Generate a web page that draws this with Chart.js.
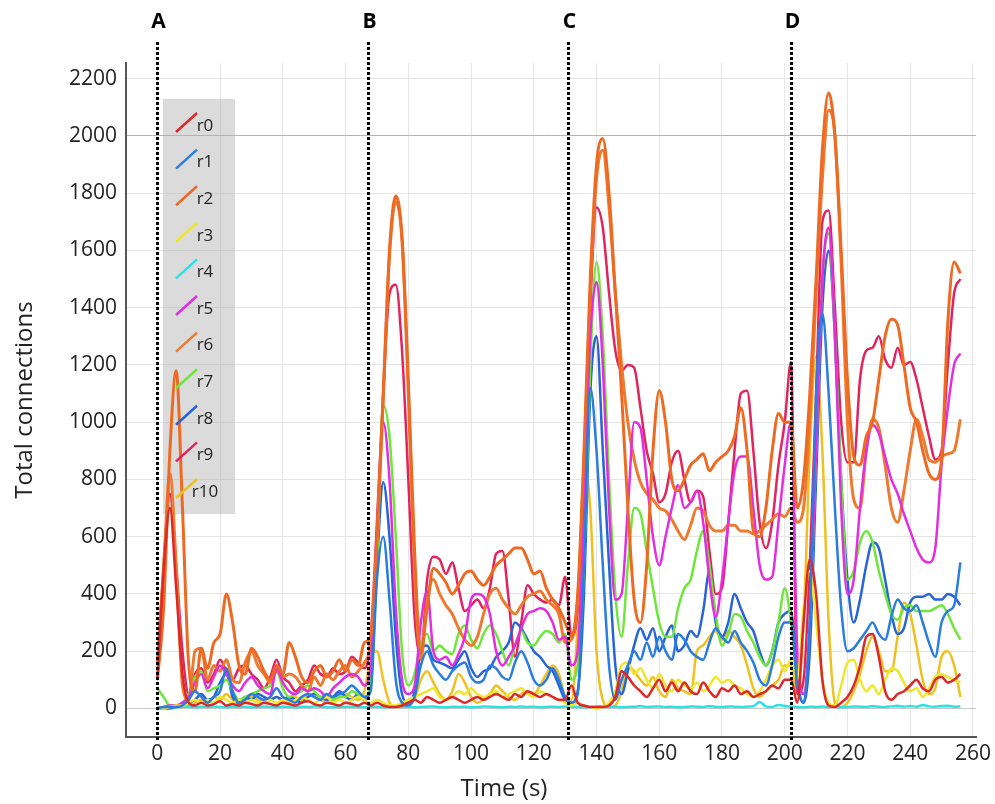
<!DOCTYPE html>
<html>
<head>
<meta charset="utf-8">
<script src="https://cdn.jsdelivr.net/npm/chart.js@4.4.0/dist/chart.umd.min.js"></script>
<style>
  body { margin: 0; background: #fff; }
  #wrap { width: 995px; height: 804px; }
</style>
</head>
<body>
<div id="wrap"><canvas id="connChart" width="995" height="804"></canvas></div>
<script>
// sample times (s), one value every 2 s
var times = [];
for (var t = 0; t <= 256; t += 2) times.push(t);

var xTicks = [0, 20, 40, 60, 80, 100, 120, 140, 160, 180, 200, 220, 240, 260];
var yTicks = [0, 200, 400, 600, 800, 1000, 1200, 1400, 1600, 1800, 2000, 2200];

var seriesNames = ['r0', 'r1', 'r2', 'r3', 'r4', 'r5', 'r6', 'r7', 'r8', 'r9', 'r10'];
var seriesColors = ['#dc2828', '#2a7de0', '#ee6a22', '#f0e62a', '#2ee2e2', '#e22ee0',
                    '#ee7a30', '#6ee63a', '#2664d8', '#e2245e', '#f0c020'];

// phase markers
var markerNames = ['A', 'B', 'C', 'D'];
var markerTimes = [0, 67, 131, 202];

var r0 = [100,480,700,420,120,20,10,20,10,15, 25,10,15,10,20,15,10,20,15,10, 20,15,10,20,25,15,10,20,15,10, 20,15,10,20,
          10,20,10,5,5,10,20,30,20,40, 30,20,30,40,30,20,30,40,30,40, 50,40,30,50,40,60,50,40,50,40, 30,30,
          80,20,10,5,5,5,10,40,130,110, 80,60,40,70,100,60,90,60,90,60, 50,90,60,40,70,60,80,50,60,40, 50,60,80,70,100,
          100,20,300,520,400,100,10,5,20,40, 80,150,250,260,180,60,30,50,60,80, 100,70,60,100,110,90,100,120];
var r1 = [0,5,5,5,10,30,60,40,20,40, 60,140,60,20,30,50,40,30,40,70, 40,30,20,40,50,40,30,50,40,50, 60,80,60,40,
          60,450,600,380,100,20,10,40,150,200, 150,120,100,130,150,160,110,90,100,150, 140,110,100,160,200,160,100,80,100,140, 100,40,
          20,50,500,1120,900,500,150,30,100,150, 200,170,230,180,250,200,170,260,240,200, 180,170,230,280,250,230,270,230,200,160, 100,80,150,250,300,
          300,80,20,300,1100,1380,1100,700,350,200, 210,240,270,300,260,240,320,380,350,340, 360,300,230,180,300,340,360,510];
var r2 = [100,350,900,1180,700,150,60,210,140,230, 260,400,300,150,120,210,180,130,100,150, 120,230,180,110,90,130,150,110,130,170, 130,170,150,230,
          250,600,1100,1600,1790,1650,1150,550,200,350, 490,470,440,400,430,470,480,450,430,460, 500,520,540,560,560,520,470,480,420,380, 350,300,
          250,400,900,1500,1900,1990,1800,1450,1100,700, 380,300,500,900,1110,1000,800,760,800,850, 870,890,830,860,880,900,950,1050,900,620, 600,700,900,1030,1000,
          1000,700,800,1100,1500,1950,2150,2000,1600,1150, 880,850,950,1000,1150,1300,1360,1340,1200,1050, 1000,900,820,800,870,1350,1560,1520];
var r3 = [0,0,5,10,10,20,30,20,30,20, 40,30,20,30,20,30,20,20,30,20, 30,20,30,40,30,20,30,40,20,30, 20,30,40,30,
          20,30,20,10,10,20,30,40,50,60, 70,40,30,40,60,50,70,50,40,50, 60,40,50,60,70,50,40,60,50,40, 30,20,
          10,20,10,5,0,5,20,60,150,160, 120,140,100,70,120,80,60,100,80,70, 90,60,80,110,90,100,80,70,50,40, 60,100,150,170,130,
          170,100,350,480,300,100,20,10,80,160, 170,100,60,80,50,100,140,130,90,60, 70,40,70,110,120,110,100,90];
var r4 = [2,3,5,4,6,5,4,6,5,7, 5,4,6,5,6,4,5,7,5,4, 6,5,4,6,5,7,6,5,4,6, 5,6,5,4,
          5,6,4,5,7,5,6,4,5,6, 7,5,4,6,5,6,4,5,7,6, 5,4,6,5,7,5,6,4,5,6, 5,7,
          6,5,4,5,6,7,5,6,4,5, 6,8,5,6,7,5,6,4,5,7, 6,5,8,6,5,7,6,5,6,8, 22,7,5,12,8,
          6,5,4,6,5,7,5,6,4,5, 7,6,5,8,6,5,7,9,6,8, 6,12,7,6,8,9,6,7];
var r5 = [0,5,10,10,20,40,90,120,70,110, 150,120,80,60,90,110,80,60,50,140, 90,60,50,70,60,70,60,40,70,90, 110,120,110,80,
          150,600,1000,800,350,100,50,80,300,410, 200,170,180,150,190,250,380,400,390,330, 200,150,180,220,280,330,340,350,340,300, 240,250,
          150,200,700,1300,1490,1200,700,380,400,700, 1000,980,800,600,500,600,700,780,700,720, 760,650,450,320,450,650,830,880,880,700, 500,450,460,650,850,
          1000,200,50,300,900,1500,1680,1300,700,400, 450,700,900,990,960,880,800,750,680,620, 560,520,510,560,850,1050,1200,1240];
var r6 = [150,500,820,500,80,30,200,210,100,150, 130,170,100,90,160,200,150,120,90,130, 110,120,110,80,60,110,80,120,100,130, 150,110,130,160,
          230,580,1080,1580,1770,1630,1100,480,170,380, 450,400,360,330,280,240,220,250,330,400, 420,380,350,330,360,390,400,410,380,360, 330,230,
          240,380,850,1450,1850,1950,1750,1450,1200,1000, 870,790,750,730,700,690,660,620,590,640, 700,690,640,620,620,640,640,620,620,610, 620,640,660,680,670,
          700,650,700,1000,1450,1850,2090,2000,1550,1000, 730,700,900,1010,980,850,700,650,760,900, 1010,950,870,860,880,890,900,1010];
var r7 = [70,40,10,10,20,50,110,130,60,70, 80,100,60,30,40,50,60,70,80,130, 70,40,50,60,80,60,40,50,30,40, 40,60,50,40,
          100,500,1060,950,600,200,80,120,230,260, 200,220,200,190,260,290,240,210,260,290, 260,200,150,220,270,230,220,250,270,260, 230,260,
          100,150,500,1200,1560,1300,800,400,250,500, 700,680,550,420,300,250,250,350,420,450, 550,620,500,330,220,260,330,320,270,230, 180,150,200,300,420,
          300,100,50,300,900,1500,1660,1300,800,450, 480,580,620,580,480,400,330,310,350,360, 340,340,340,350,360,330,280,240];
var r8 = [0,0,0,5,10,20,30,50,30,40, 90,120,40,20,40,30,50,40,30,40, 30,40,30,20,40,50,40,30,40,60, 40,30,50,30,
          80,500,790,600,250,50,20,60,200,220, 170,160,150,140,170,200,140,110,130,140, 180,200,230,300,280,240,200,180,150,130, 80,30,
          20,60,400,1100,1300,900,500,150,50,130, 220,280,240,280,200,250,290,200,220,270, 250,340,480,300,250,300,400,350,300,270, 200,150,200,300,330,
          340,100,20,200,800,1400,1600,1300,800,450, 300,380,500,580,560,450,330,260,280,370, 390,390,400,380,380,400,390,360];
var r9 = [150,500,750,500,200,50,120,140,90,120, 170,130,100,140,150,120,100,70,110,170, 110,90,60,80,100,150,120,110,140,120, 130,180,160,140,
          250,650,1100,1450,1480,1250,800,320,180,450, 530,520,470,510,420,340,360,380,350,420, 540,550,380,180,300,430,400,380,370,380, 360,460,
          250,350,800,1400,1750,1680,1450,1250,1180,1200, 1190,1050,900,820,720,750,860,900,800,720, 760,740,550,400,420,650,900,1100,1110,900, 650,560,650,850,1000,
          1210,50,100,500,1100,1700,1740,1400,1000,860, 860,1150,1250,1260,1300,1220,1190,1260,1200,1210, 1150,1050,950,870,900,1200,1450,1500];
var r10 = [0,0,5,5,5,10,20,30,20,40, 30,50,30,20,30,40,30,20,30,40, 20,30,40,30,50,40,30,20,30,40, 50,40,30,60,
           180,200,100,20,5,5,10,30,100,130, 90,50,30,60,120,90,40,20,30,50, 80,60,40,30,50,60,50,80,120,150, 120,40,
           30,300,830,700,200,30,5,10,60,150, 130,100,80,110,60,40,100,70,60,50, 200,220,250,270,240,270,250,220,150,70, 40,60,80,100,150,
           150,50,300,900,1230,900,300,20,5,20, 60,120,200,250,200,130,130,250,370,330, 220,100,50,70,180,200,150,40];

var seriesData = [r0, r1, r2, r3, r4, r5, r6, r7, r8, r9, r10];

var datasets = seriesNames.map(function (name, i) {
    return {
        label: name,
        data: seriesData[i],
        borderColor: seriesColors[i],
        backgroundColor: seriesColors[i],
        borderWidth: (name === 'r2' || name === 'r6') ? 3 : 2.5,
        pointRadius: 0,
        fill: false,
        cubicInterpolationMode: 'monotone'
    };
});

var legendBox = {
    id: 'legendBox',
    beforeDatasetsDraw: function (chart) {
        var ctx = chart.ctx;
        ctx.save();
        ctx.fillStyle = 'rgba(175,175,175,0.45)';
        ctx.fillRect(163, 99, 72, 415);
        ctx.restore();
    },
    afterDatasetsDraw: function (chart) {
        var ctx = chart.ctx;
        ctx.save();
        ctx.font = '17px "Open Sans"';
        ctx.textAlign = 'center';
        ctx.textBaseline = 'middle';
        chart.data.datasets.forEach(function (ds, i) {
            var y = 125 + i * 36.6;
            ctx.strokeStyle = ds.borderColor;
            ctx.lineWidth = 2.5;
            ctx.beginPath();
            ctx.moveTo(176, y + 7);
            ctx.lineTo(197, y - 12);
            ctx.stroke();
            ctx.fillStyle = '#222';
            ctx.fillText(ds.label, 205, y + 1);
        });
        ctx.restore();
    }
};

var phaseLines = {
    id: 'phaseLines',
    afterDraw: function (chart) {
        var ctx = chart.ctx;
        var xs = chart.scales.x;
        ctx.save();
        markerTimes.forEach(function (mt, i) {
            var px = Math.round(xs.getPixelForValue(mt)) + 0.5;
            ctx.strokeStyle = '#000';
            ctx.lineWidth = 3;
            ctx.setLineDash([3, 2]);
            ctx.beginPath();
            ctx.moveTo(px, 42);
            ctx.lineTo(px, 740);
            ctx.stroke();
            ctx.setLineDash([]);
            ctx.fillStyle = '#000';
            ctx.font = 'bold 21px "Open Sans"';
            ctx.textAlign = 'center';
            ctx.textBaseline = 'middle';
            ctx.fillText(markerNames[i], px + 1, 22);
        });
        // x axis title sits left of the plot centre in the original
        ctx.fillStyle = '#222';
        ctx.font = '24px "Open Sans"';
        ctx.textAlign = 'center';
        ctx.textBaseline = 'middle';
        ctx.fillText('Time (s)', 504, 789);
        ctx.restore();
    }
};

function plainLabel(v) { return String(v); }

function pageLoad() {
    var ctx = document.getElementById('connChart');
    var connChart = new Chart(ctx, {
        type: 'line',
        data: {
            labels: times,
            datasets: datasets
        },
        options: {
            responsive: false,
            animation: false,
            devicePixelRatio: 1,
            layout: { padding: { top: 63, right: 15, left: 0, bottom: 0 } },
            plugins: {
                legend: { display: false },
                tooltip: { enabled: false }
            },
            scales: {
                x: {
                    type: 'linear',
                    min: -10,
                    max: 261,
                    ticks: {
                        padding: 4,
                        color: '#222',
                        font: { family: 'Open Sans', size: 21 },
                        maxRotation: 0,
                        autoSkip: false,
                        callback: plainLabel
                    },
                    afterBuildTicks: function (s) {
                        s.ticks = xTicks.map(function (v) { return { value: v }; });
                    },
                    afterFit: function (s) { s.height = 67; },
                    grid: { color: '#e6e6e6', drawTicks: false },
                    border: { color: '#555', width: 2 }
                },
                y: {
                    min: -100,
                    max: 2255,
                    ticks: {
                        padding: 9,
                        color: '#222',
                        font: { family: 'Open Sans', size: 21 },
                        autoSkip: false,
                        callback: plainLabel
                    },
                    afterBuildTicks: function (s) {
                        s.ticks = yTicks.map(function (v) { return { value: v }; });
                    },
                    afterFit: function (s) { s.width = 126; },
                    grid: {
                        drawTicks: false,
                        color: function (c) {
                            if (c.tick && c.tick.value === 2000) return '#b4b4b4';
                            if (c.tick && c.tick.value === 0) return '#c8c8c8';
                            return '#e6e6e6';
                        }
                    },
                    border: { color: '#555', width: 2 },
                    title: {
                        display: true,
                        text: 'Total connections',
                        color: '#222',
                        font: { family: 'Open Sans', size: 24 },
                        padding: { top: 11, bottom: 0 }
                    }
                }
            }
        },
        plugins: [legendBox, phaseLines]
    });
}

window.onload = pageLoad;
</script>
</body>
</html>
